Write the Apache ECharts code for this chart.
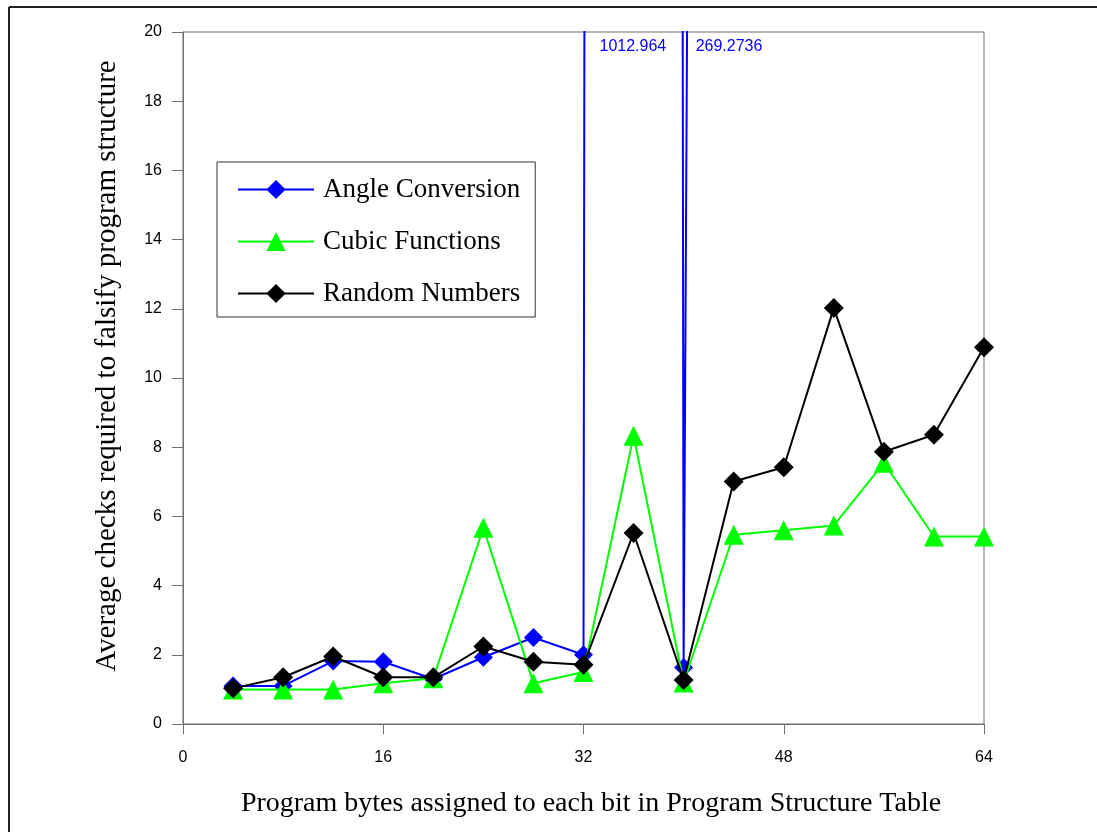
<!DOCTYPE html>
<html>
<head>
<meta charset="utf-8">
<script src="https://cdn.jsdelivr.net/npm/echarts@6/dist/echarts.min.js"></script>
<style>
html,body{margin:0;padding:0;background:#fff;}
#chart{width:1097px;height:832px;}
</style>
</head>
<body>
<div id="chart"></div>
<script>
// ---- data ----
var xBytes = [4, 8, 12, 16, 20, 24, 28, 32, 36, 40, 44, 48, 52, 56, 60, 64];
var angleConversion = [1.1, 1.1, 1.82, 1.8, 1.3, 1.93, 2.5, 2.0, 1012.964, 1.63, 269.2736];
var cubicFunctions = [1.0, 1.0, 1.0, 1.18, 1.32, 5.67, 1.18, 1.5, 8.33, 1.2, 5.47, 5.6, 5.74, 7.55, 5.42, 5.42];
var randomNumbers = [1.03, 1.35, 1.95, 1.35, 1.35, 2.24, 1.8, 1.71, 5.52, 1.27, 7.01, 7.42, 12.02, 7.87, 8.36, 10.89];
var seriesNames = ['Angle Conversion', 'Cubic Functions', 'Random Numbers'];
var xTicks = [0, 16, 32, 48, 64];
var yTicks = [0, 2, 4, 6, 8, 10, 12, 14, 16, 18, 20];

function pairs(vals) { return vals.map(function (v, i) { return [xBytes[i], v]; }); }

var chart = echarts.init(document.getElementById('chart'), null, {renderer: 'canvas'});
var serif = '"Liberation Serif", "Times New Roman", serif';
var sans = '"Liberation Sans", Arial, sans-serif';
var axisGray = '#707070';

var option = {
  animation: false,
  backgroundColor: '#fff',
  grid: {left: 183, right: 113, top: 32, bottom: 108, show: true, borderColor: axisGray, borderWidth: 1},
  legend: {
    orient: 'vertical', left: 217, top: 162,
    itemWidth: 76, itemHeight: 24, itemGap: 25,
    padding: [14, 15, 10, 20],
    borderColor: '#333', borderWidth: 1, backgroundColor: '#fff',
    textStyle: {fontFamily: serif, fontSize: 27, color: '#000', lineHeight: 27, padding: [0, 0, 0, 4]},
    data: seriesNames
  },
  xAxis: {
    type: 'value', min: xTicks[0], max: xTicks[xTicks.length - 1], interval: 16,
    name: 'Program bytes assigned to each bit in Program Structure Table',
    nameLocation: 'middle', nameGap: 66,
    nameTextStyle: {fontFamily: serif, fontSize: 28, color: '#000', padding: [0, 0, 0, 15]},
    axisLine: {show: true, lineStyle: {color: axisGray, width: 1}},
    axisTick: {show: true, inside: false, length: 10, lineStyle: {color: axisGray}},
    axisLabel: {fontFamily: sans, fontSize: 16, color: '#000', margin: 26},
    splitLine: {show: false}
  },
  yAxis: {
    type: 'value', min: yTicks[0], max: yTicks[yTicks.length - 1], interval: 2,
    name: 'Average checks required to falsify program structure',
    nameLocation: 'middle', nameGap: 61,
    nameTextStyle: {fontFamily: serif, fontSize: 29, color: '#000', padding: [0, 0, 0, 24]},
    axisLine: {show: true, lineStyle: {color: axisGray, width: 1}},
    axisTick: {show: true, inside: false, length: 11, lineStyle: {color: axisGray}},
    axisLabel: {fontFamily: sans, fontSize: 16, color: '#000', margin: 21},
    splitLine: {show: false}
  },
  series: [
    {
      name: seriesNames[0], type: 'line', data: pairs(angleConversion), clip: true,
      symbol: 'diamond', symbolSize: 19, color: '#0000ff',
      lineStyle: {color: '#0000ff', width: 2}, itemStyle: {color: '#0000ff'}, z: 2
    },
    {
      name: seriesNames[1], type: 'line', data: pairs(cubicFunctions), clip: true,
      symbol: 'triangle', symbolSize: 20, color: '#00ff00',
      lineStyle: {color: '#00ff00', width: 2}, itemStyle: {color: '#00ff00'}, z: 3
    },
    {
      name: seriesNames[2], type: 'line', data: pairs(randomNumbers), clip: true,
      symbol: 'diamond', symbolSize: 20, color: '#000000',
      lineStyle: {color: '#000000', width: 2}, itemStyle: {color: '#000000'}, z: 4
    }
  ]
};
chart.setOption(option);

// annotate the off-scale values of Angle Conversion at the top of the plot
var yTop = yTicks[yTicks.length - 1];
var offScale = [];
angleConversion.forEach(function (v, i) { if (v > yTop) offScale.push(i); });
var graphics = [
  {type: 'line', shape: {x1: 9, y1: 7, x2: 1097, y2: 7}, style: {stroke: '#222', lineWidth: 2}},
  {type: 'line', shape: {x1: 9, y1: 7, x2: 9, y2: 832}, style: {stroke: '#222', lineWidth: 2}}
];
offScale.forEach(function (i, k) {
  var prev = xBytes[i - 1];
  var p = chart.convertToPixel({gridIndex: 0}, [prev, yTop]);
  graphics.push({
    type: 'text', x: p[0] + (k === 0 ? 16 : 12), y: p[1] + 15,
    style: {text: String(angleConversion[i]), fill: '#0000ff', font: '16px ' + sans, textVerticalAlign: 'middle'}
  });
});
chart.setOption({graphic: graphics});
</script>
</body>
</html>
